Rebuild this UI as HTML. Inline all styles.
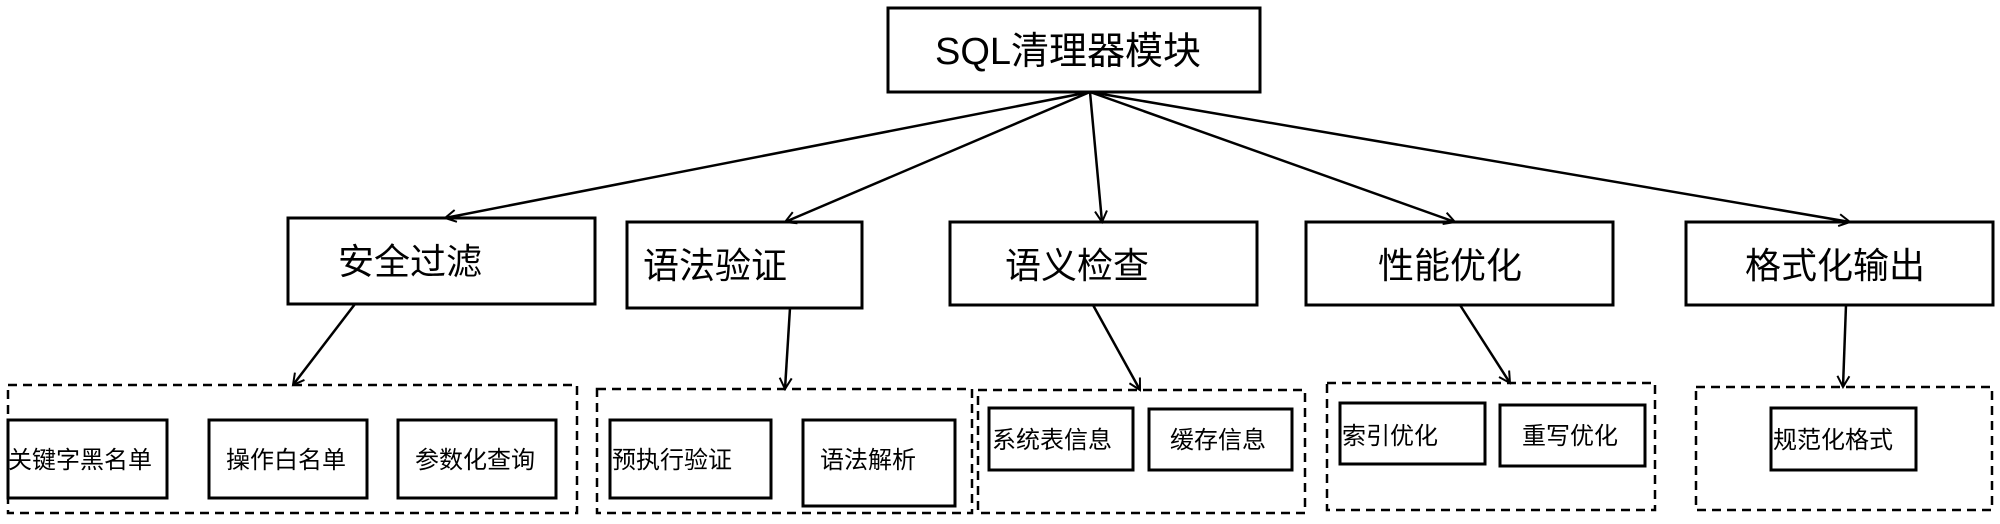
<!DOCTYPE html>
<html><head><meta charset="utf-8"><style>
body{margin:0;background:#fff;}
svg text{font-family:"Liberation Sans","Noto Sans CJK SC",sans-serif;fill:#000;}
</style></head><body>
<svg width="2000" height="519" xmlns="http://www.w3.org/2000/svg">
<defs><marker id="a" markerWidth="14" markerHeight="14" refX="12" refY="7" orient="auto" markerUnits="userSpaceOnUse"><path d="M1,1 L12,7 L1,13" fill="none" stroke="#000" stroke-width="2"/></marker></defs>
<g fill="none" stroke="#000" stroke-width="3">
<rect x="888" y="8" width="372" height="84"/>
<rect x="288" y="218" width="307" height="86"/>
<rect x="627" y="222" width="235" height="86"/>
<rect x="950" y="222" width="307" height="83"/>
<rect x="1306" y="222" width="307" height="83"/>
<rect x="1686" y="222" width="307" height="83"/>
<rect x="8" y="420" width="159" height="78"/>
<rect x="209" y="420" width="158" height="78"/>
<rect x="398" y="420" width="158" height="78"/>
<rect x="610" y="420" width="161" height="78"/>
<rect x="803" y="420" width="152" height="86"/>
<rect x="989" y="408" width="144" height="62"/>
<rect x="1149" y="409" width="143" height="61"/>
<rect x="1340" y="403" width="145" height="61"/>
<rect x="1500" y="405" width="145" height="61"/>
<rect x="1771" y="408" width="145" height="62"/>
</g>
<g fill="none" stroke="#000" stroke-width="2.5" stroke-dasharray="9,6">
<rect x="8" y="385" width="569" height="128"/>
<rect x="597" y="389" width="375" height="124"/>
<rect x="978" y="390" width="327" height="123"/>
<rect x="1327" y="383" width="328" height="127"/>
<rect x="1696" y="387" width="296" height="123"/>
</g>
<g stroke="#000" stroke-width="2.5" marker-end="url(#a)">
<line x1="1090" y1="92" x2="445" y2="218"/>
<line x1="1090" y1="92" x2="785" y2="222"/>
<line x1="1090" y1="92" x2="1102" y2="222"/>
<line x1="1090" y1="92" x2="1455" y2="222"/>
<line x1="1090" y1="92" x2="1850" y2="222"/>
<line x1="355" y1="304" x2="293" y2="385"/>
<line x1="790" y1="308" x2="785" y2="389"/>
<line x1="1093" y1="305" x2="1140" y2="390"/>
<line x1="1460" y1="305" x2="1510" y2="383"/>
<line x1="1846" y1="305" x2="1843" y2="387"/>
</g>
<g font-size="38"><text x="935" y="64">SQL清理器模块</text></g>
<g font-size="36">
<text x="338" y="274">安全过滤</text>
<text x="643" y="278">语法验证</text>
<text x="1005" y="278">语义检查</text>
<text x="1378" y="278">性能优化</text>
<text x="1745" y="278">格式化输出</text>
</g>
<g font-size="24">
<text x="8" y="468">关键字黑名单</text>
<text x="226" y="468">操作白名单</text>
<text x="415" y="468">参数化查询</text>
<text x="612" y="468">预执行验证</text>
<text x="820" y="468">语法解析</text>
<text x="992" y="448">系统表信息</text>
<text x="1170" y="448">缓存信息</text>
<text x="1342" y="444">索引优化</text>
<text x="1522" y="444">重写优化</text>
<text x="1773" y="448">规范化格式</text>
</g>
</svg>
</body></html>
